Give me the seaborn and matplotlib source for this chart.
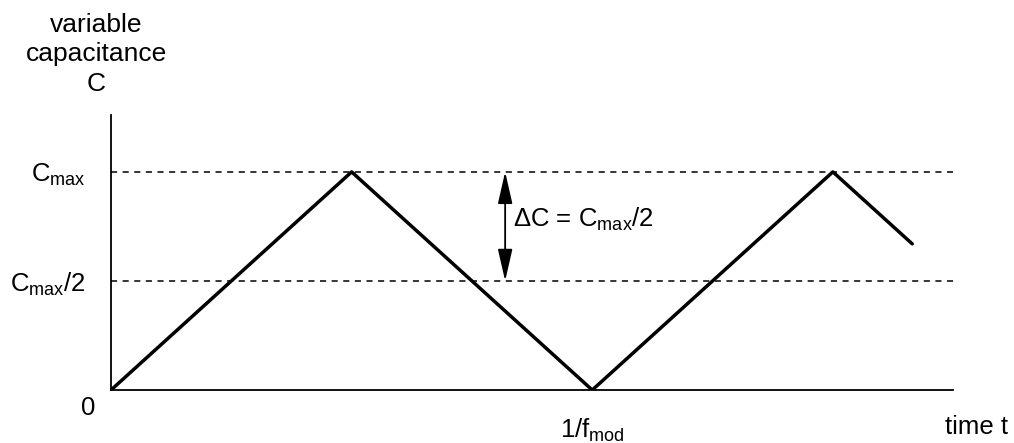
import pandas as pd
import seaborn as sns
import matplotlib.pyplot as plt

# triangle wave, time in units of 1/f_mod, capacitance in units of C_max
t = [0.0, 0.5, 1.0, 1.5, 1.665]
cap = [0.0, 1.0, 0.0, 1.0, 0.67]
level_vals = [1.0, 0.5]
level_labels = [r"C$_{\mathrm{max}}$", r"C$_{\mathrm{max}}$/2"]
xtick_vals = [1.0]
xtick_labels = [r"1/f$_{\mathrm{mod}}$"]

sns.set_style("white")
plt.rcParams['font.family'] = ['Liberation Sans', 'DejaVu Sans']
plt.rcParams['mathtext.fontset'] = 'custom'
plt.rcParams['mathtext.rm'] = 'Liberation Sans'
plt.rcParams['mathtext.it'] = 'Liberation Sans'
plt.rcParams['text.color'] = 'black'
plt.rcParams['xtick.color'] = 'black'
plt.rcParams['ytick.color'] = 'black'

df = pd.DataFrame({"t": t, "C": cap})

fig = plt.figure(figsize=(10.14, 4.43), dpi=100)
ax = fig.add_axes([0.1095, 0.1196, 0.8305, 0.6204])

for v in level_vals:
    ax.axhline(v, color="black", lw=1.1, ls=(0, (4, 3.6)), zorder=1)

sns.lineplot(data=df, x="t", y="C", color="black", lw=2.5, ax=ax, zorder=3)

ax.set_xlim(0, 1.75)
ax.set_ylim(0, 1.26)
for s in ["top", "right"]:
    ax.spines[s].set_visible(False)
for s in ["left", "bottom"]:
    ax.spines[s].set_linewidth(1.3)
    ax.spines[s].set_color("black")

fs = 18.5
ax.set_yticks(level_vals)
ax.set_yticklabels(level_labels)
ax.set_xticks(xtick_vals)
ax.set_xticklabels(xtick_labels)
ax.tick_params(axis="y", length=0, pad=18, labelsize=fs)
ax.tick_params(axis="x", length=0, pad=19, labelsize=fs)
ax.set_xlabel("")
ax.set_ylabel("")

ax.text(-0.047, -0.115, "0", ha="center", va="baseline", fontsize=fs, clip_on=False)
ax.text(1.734, -0.202, "time t", ha="left", va="baseline", fontsize=fs, clip_on=False)
ax.text(-0.03, 1.35, "variable\ncapacitance\nC", ha="center", va="bottom",
        fontsize=19, linespacing=1.28, clip_on=False)

# delta C arrow
ax.annotate("", xy=(0.819, 0.5), xytext=(0.819, 1.0),
            arrowprops=dict(arrowstyle="<|-|>,head_length=0.7,head_width=0.16",
                            color="black", lw=1.3,
                            mutation_scale=28, shrinkA=0, shrinkB=0))
ax.text(0.835, 0.78, r"$\Delta$C = C$_{\mathrm{max}}$/2", ha="left",
        va="center", fontsize=fs)

fig.savefig("out.png", dpi=100)
